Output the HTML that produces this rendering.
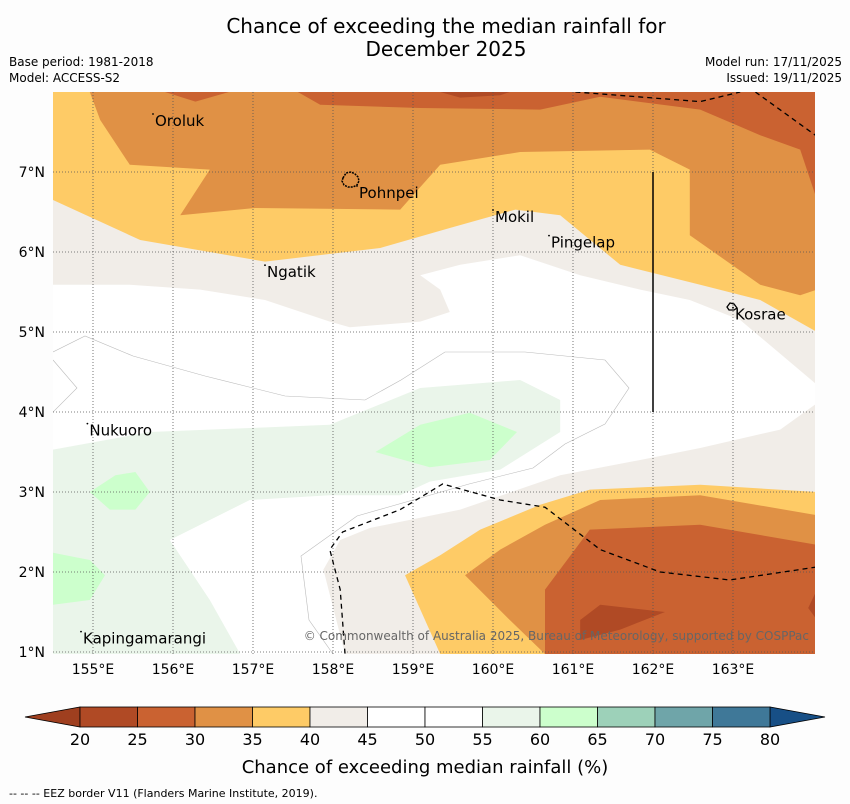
<!DOCTYPE html>
<html><head><meta charset="utf-8"><style>
body{margin:0;background:#fdfdfd;width:850px;height:804px;overflow:hidden;font-family:"DejaVu Sans","Liberation Sans",sans-serif}
svg{position:absolute;left:0;top:0}
</style></head><body>
<svg id="c" width="850" height="804"></svg>
<script>
const lonMin=154.5, lonMax=164.025, latMin=0.975, latMax=8.0;
const X0=53, X1=815, Y0=92, Y1=654;
const lonTicks=[155,156,157,158,159,160,161,162,163];
const latTicks=[1,2,3,4,5,6,7];
const cbTicks=[20,25,30,35,40,45,50,55,60,65,70,75,80];
const cbColors=["#b04a25","#ca6231","#e09145","#fecb66","#f1ede8","#ffffff","#ffffff","#eaf5ea","#ccffcc","#9dd1b9","#6fa5a9","#3f7898"];
const creamTop=[[154.5,6.38],[154.5,5.59],[155.46,5.59],[156.34,5.53],[157.15,5.4],[157.96,5.13],[158.21,5.06],[159.09,5.13],[159.46,5.25],[159.34,5.53],[159.09,5.71],[159.59,5.84],[160.34,5.96],[161.09,5.71],[161.84,5.53],[162.46,5.4],[163.09,5.15],[164.05,4.34],[164.05,8],[154.5,8]];
const yellowTop=[[154.5,6.65],[155.59,6.15],[157.15,5.88],[158.59,6.05],[159.46,6.3],[160.28,6.53],[160.84,6.46],[161.59,5.84],[162.59,5.59],[163.34,5.4],[164.05,5.0],[164.05,8],[154.5,8]];
const orangeTop=[[154.96,8],[155.09,7.65],[155.46,7.09],[156.46,7.03],[156.09,6.46],[157.03,6.55],[158.84,6.53],[159.34,7.09],[160.34,7.25],[161.96,7.28],[162.46,7.03],[162.46,6.21],[163.34,5.59],[163.84,5.46],[164.05,5.53],[164.05,8]];
const darkTopA=[[155.9,8],[156.28,7.88],[156.7,8]];
const darkTopB=[[157.56,8],[157.84,7.84],[159.09,7.8],[160.59,7.78],[161.34,7.94],[162.59,7.78],[163.34,7.46],[163.84,7.28],[164.05,6.65],[164.05,8]];
const darkestTop=[[159.34,8],[159.59,7.93],[160.09,7.96],[160.21,8]];
const creamBot=[[158.15,0.975],[157.88,2.03],[158.09,2.4],[158.46,2.55],[159.59,2.78],[160.84,3.21],[161.84,3.4],[162.59,3.55],[163.59,3.78],[164.05,4.11],[164.05,0.975]];
const yellowBot=[[159.34,0.975],[158.9,1.96],[159.34,2.21],[159.84,2.53],[160.59,2.84],[161.21,3.03],[162.59,3.09],[164.05,3.0],[164.05,0.975]];
const orangeBot=[[160.65,0.975],[160.21,1.4],[159.65,1.96],[160.09,2.28],[160.65,2.59],[161.34,2.9],[162.59,2.96],[164.05,2.71],[164.05,0.975]];
const darkBot=[[160.65,0.975],[160.65,1.78],[161.21,2.53],[162.59,2.59],[164.05,2.34],[164.05,0.975]];
const darkestBot=[[161.09,1.4],[161.34,1.59],[162.15,1.5],[161.59,1.28],[161.09,1.15]];
const darkestRight=[[164.05,1.78],[163.94,1.55],[164.05,1.4]];
const lightGreen=[[154.5,3.53],[155.71,3.75],[156.96,3.8],[157.96,3.84],[159.09,4.3],[160.34,4.4],[160.84,4.15],[160.84,3.75],[160.09,3.28],[159.21,3.13],[158.84,2.96],[157.96,2.96],[156.96,2.9],[155.96,2.4],[156.46,1.65],[156.84,0.975],[154.5,0.975]];
const green1=[[158.53,3.5],[159.09,3.84],[159.71,3.99],[160.3,3.75],[159.96,3.4],[159.21,3.31]];
const green2=[[154.96,3.0],[155.28,3.21],[155.53,3.25],[155.71,3.0],[155.53,2.78],[155.21,2.78]];
const green3=[[154.5,2.24],[154.96,2.15],[155.15,1.96],[154.96,1.65],[154.5,1.59]];
const contour50a=[[154.5,4.75],[154.9,4.95],[155.5,4.7],[156.4,4.45],[157.4,4.2],[158.4,4.15],[158.85,4.4],[159.4,4.75],[160.4,4.75],[161.4,4.65],[161.7,4.3],[161.4,3.85],[160.9,3.6],[160.5,3.3],[159.7,3.1],[158.3,2.7],[157.6,2.2],[157.7,1.4],[158.0,0.975]];
const contour50b=[[154.5,4.0],[154.8,4.3],[154.5,4.65]];
const eez1=[[161.03,8],[162.59,7.88],[163.09,8]];
const eez2=[[163.28,8],[164.03,7.46]];
const eez3=[[158.15,0.98],[158.09,1.78],[157.96,2.28],[158.12,2.5],[158.84,2.78],[159.37,3.1],[160.09,2.9],[160.65,2.81],[161.34,2.28],[162.09,2.0],[162.96,1.9],[164.03,2.06]];
const places=[["Oroluk",155.75,7.65],["Pohnpei",158.3,6.75],["Mokil",160.0,6.45],["Pingelap",160.7,6.13],["Ngatik",157.15,5.76],["Kosrae",163.0,5.23],["Nukuoro",154.93,3.78],["Kapingamarangi",154.85,1.18]];

const NS="http://www.w3.org/2000/svg";
const svg=document.getElementById('c');
const sx=l=>X0+(l-lonMin)/(lonMax-lonMin)*(X1-X0);
const sy=l=>Y0+(latMax-l)/(latMax-latMin)*(Y1-Y0);
function mk(tag,attrs,parent){const e=document.createElementNS(NS,tag);for(const k in attrs)e.setAttribute(k,attrs[k]);(parent||svg).appendChild(e);return e;}
function pts(a){return a.map(p=>sx(p[0]).toFixed(1)+','+sy(p[1]).toFixed(1)).join(' ');}
function txt(s,x,y,attrs){const t=mk('text',Object.assign({x:x,y:y,fill:'#000'},attrs));t.textContent=s;return t;}

const clip=mk('clipPath',{id:'mc'});mk('rect',{x:X0,y:Y0,width:X1-X0,height:Y1-Y0},clip);
const g=mk('g',{'clip-path':'url(#mc)'});


const bg=mk('rect',{x:X0,y:Y0,width:X1-X0,height:Y1-Y0,fill:'#fff'},g);


const layers=[["light-green-region",lightGreen,cbColors[7]],["green-region-1",green1,cbColors[8]],["green-region-2",green2,cbColors[8]],["green-region-3",green3,cbColors[8]],
["cream-region-top",creamTop,cbColors[4]],["yellow-region-top",yellowTop,cbColors[3]],["orange-region-top",orangeTop,cbColors[2]],["dark-orange-top-a",darkTopA,cbColors[1]],["dark-orange-top-b",darkTopB,cbColors[1]],["darkest-top",darkestTop,cbColors[0]],
["cream-region-bottom",creamBot,cbColors[4]],["yellow-region-bottom",yellowBot,cbColors[3]],["orange-region-bottom",orangeBot,cbColors[2]],["dark-orange-bottom",darkBot,cbColors[1]],["darkest-bottom",darkestBot,cbColors[0]],["darkest-right",darkestRight,cbColors[0]]];
layers.forEach(L=>{const p=mk('polygon',{points:pts(L[1]),fill:L[2]},g);

});
[contour50a,contour50b].forEach(a=>{const p=mk('polyline',{points:pts(a),fill:'none',stroke:'#bbb','stroke-width':0.6},g);

});
// grid
lonTicks.forEach(l=>{const ln=mk('line',{x1:sx(l),x2:sx(l),y1:Y0,y2:Y1,stroke:'#555','stroke-width':0.8,'stroke-dasharray':'1,2'},g);

});
latTicks.forEach(l=>{const ln=mk('line',{x1:X0,x2:X1,y1:sy(l),y2:sy(l),stroke:'#555','stroke-width':0.8,'stroke-dasharray':'1,2'},g);

});
// EEZ
[eez1,eez2,eez3].forEach(a=>{const p=mk('polyline',{points:pts(a),fill:'none',stroke:'#000','stroke-width':1.3,'stroke-dasharray':'5,4'},g);

});
const vl=mk('line',{x1:sx(162),x2:sx(162),y1:sy(7),y2:sy(4),stroke:'#000','stroke-width':1.5},g);


// islands
const pi=mk('path',{d:'M343,178 l3,-5 5,-1 4,2 3,3 1,4 -2,4 -4,2 -5,0 -4,-2 -2,-4z',fill:'none',stroke:'#000','stroke-width':1.5,'stroke-dasharray':'2,1'},g);


const ki=mk('path',{d:'M727,307 l3,-4 4,1 3,4 -3,2 -5,0z',fill:'none',stroke:'#000','stroke-width':1.3},g);


places.forEach(p=>{const t=txt(p[0],sx(p[1])+2,sy(p[2])+6,{'font-size':15});


const d=mk('circle',{cx:sx(p[1]),cy:sy(p[2])-6,r:0.9,fill:'#000'});

});
const cp=txt('© Commonwealth of Australia 2025, Bureau of Meteorology, supported by COSPPac',809,640,{'font-size':12,'text-anchor':'end',fill:'#666'});


// axis tick labels
lonTicks.forEach(l=>{const t=txt(l+'°E',sx(l),674,{'font-size':14,'text-anchor':'middle'});

});
latTicks.forEach(l=>{const t=txt(l+'°N',45,sy(l)+5,{'font-size':14,'text-anchor':'end'});

});
// titles
const t1=txt('Chance of exceeding the median rainfall for',446,33,{'font-size':20,'text-anchor':'middle'});


const t2=txt('December 2025',446,56,{'font-size':20,'text-anchor':'middle'});


[['Base period: 1981-2018',9,66,'start','base-period'],['Model: ACCESS-S2',9,82,'start','model-name'],['Model run: 17/11/2025',842,66,'end','model-run'],['Issued: 19/11/2025',842,82,'end','issued-date']].forEach(a=>{
const t=txt(a[0],a[1],a[2],{'font-size':12,'text-anchor':a[3]});

});
// colorbar
const cbX0=80, cbX1=770, cbY=707, cbH=20;
const cx=v=>cbX0+(v-cbTicks[0])/(cbTicks[cbTicks.length-1]-cbTicks[0])*(cbX1-cbX0);
const le=mk('polygon',{points:`${cbX0},${cbY} ${cbX0},${cbY+cbH} 25,${cbY+cbH/2}`,fill:'#9f3f1f',stroke:'#000','stroke-width':0.8});


const re=mk('polygon',{points:`${cbX1},${cbY} ${cbX1},${cbY+cbH} 825,${cbY+cbH/2}`,fill:'#174f86',stroke:'#000','stroke-width':0.8});


cbColors.forEach((c,i)=>{const r=mk('rect',{x:cx(cbTicks[i]),y:cbY,width:cx(cbTicks[i+1])-cx(cbTicks[i]),height:cbH,fill:c,stroke:'#000','stroke-width':0.8});

});
cbTicks.forEach(v=>{const t=txt(String(v),cx(v),745,{'font-size':16,'text-anchor':'middle'});

});
const cl=txt('Chance of exceeding median rainfall (%)',425,773,{'font-size':18,'text-anchor':'middle'});


const fn=txt('--  --  -- EEZ border V11 (Flanders Marine Institute, 2019).',9,797,{'font-size':11});


</script>
</body></html>
